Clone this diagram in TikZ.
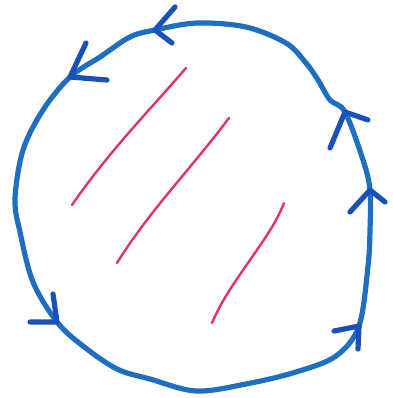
\documentclass[tikz,border=0pt]{standalone}
\begin{document}
\begin{tikzpicture}[x=1pt,y=-1pt]
\definecolor{loopblue}{RGB}{30,110,195}
\definecolor{barbblue}{RGB}{25,80,185}
\definecolor{hatchpink}{RGB}{225,50,110}
\tikzset{
  loop/.style={draw=loopblue, line width=5.2pt, line cap=round, line join=round},
  barb/.style={draw=barbblue, line width=5.2pt, line cap=round, line join=round},
  hatch/.style={draw=hatchpink, line width=2.4pt, line cap=round}}
\useasboundingbox (0,0) rectangle (392,398);
% arrow vertices
\coordinate (a1) at (155,30);
\coordinate (a2) at (70,77);
\coordinate (a3) at (57,322);
\coordinate (a4) at (359,326);
\coordinate (a5) at (370,190);
\coordinate (a6) at (345,112);
% loop
\draw[loop] plot[smooth cycle, tension=0.55] coordinates {
 (197,23) (155,30) (130,37) (100,57) (70,77) (43,110) (23,150) (15,199)
 (20,232) (33,282) (57,322) (83,346) (117,369) (150,379) (196,391)
 (246,384) (296,372) (336,356) (359,326) (368,266) (370,230) (370,190)
 (363,160) (345,112) (330,100) (318,80) (306,63) (286,43) (246,27)};
% barbs
\draw[barb] (175,7) -- (a1) -- (172,43);
\draw[barb] (86,43) -- (a2) -- (107,80);
\draw[barb] (53,294) -- (a3) -- (30,322);
\draw[barb] (334,331) -- (a4) -- (358,349);
\draw[barb] (350,212) -- (a5) -- (385,202);
\draw[barb] (330,148) -- (a6) -- (368,120);
% pink strokes
\draw[hatch] (186,68) .. controls (150,110) and (110,150) .. (72,205);
\draw[hatch] (229,118) .. controls (190,170) and (150,210) .. (117,263);
\draw[hatch] (284,203) .. controls (270,240) and (230,280) .. (212,323);
\end{tikzpicture}
\end{document}
